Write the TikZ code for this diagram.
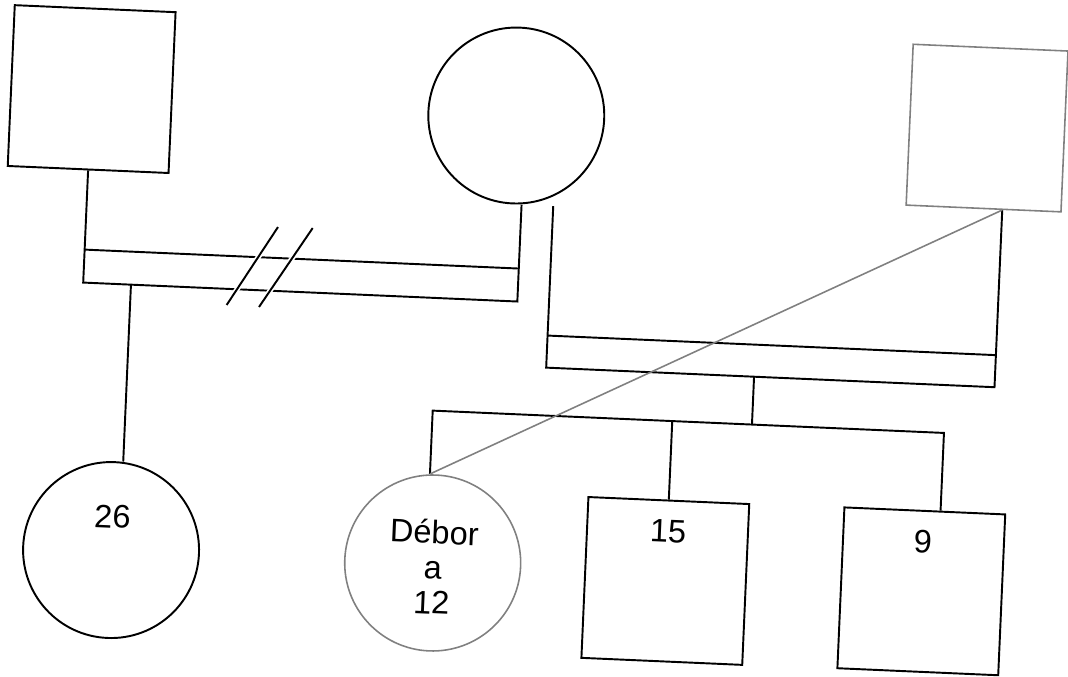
\documentclass[tikz,border=0pt]{standalone}
\usepackage{fontspec}
\setmainfont{Liberation Sans}
\usetikzlibrary{shapes}

\begin{document}
\begin{tikzpicture}[
    x=0.02cm, y=-0.02cm,
    male/.style={rectangle, draw=black, line width=1.1pt, minimum size=3.22cm, inner sep=0pt},
    female/.style={circle, draw=black, line width=1.1pt, minimum size=3.52cm, inner sep=0pt},
    faded/.style={draw=black!50, line width=0.9pt},
    age/.style={font=\fontsize{18.5}{20}\selectfont, inner sep=0pt, align=center},
    link/.style={draw=black, line width=1.1pt},
]
    \useasboundingbox (0,0) rectangle (1068,676);
    \begin{scope}[rotate around={-2.5:(534,338)}, transform shape]
    % parents
    \node[male] (dad1) at (81.2,108.6) {};
    \node[female] (mom) at (506.6,116.5) {};
    \node[male, faded, minimum width=3.1cm] (dad2) at (977.5,108.5) {};

    % children
    \node[female] (kid26) at (120.7,568.3) {};
    \node[female, faded] (debora) at (442.6,567.2) {};
    \node[male] (kid15) at (675.8,575) {};
    \node[male] (kid9) at (932,574.2) {};

    \node[age] (t26) at (120.7,535) {26};
    \node[age] (tdeb) at (443,571) {Débor\\a\\12};
    \node[age] (t15) at (676.5,525.6) {15};
    \node[age] (t9) at (931.5,524.5) {9};

    % first couple, separated
    \coordinate (b1ur) at (515.8,269.3);
    \coordinate (b1lr) at (515.8,302.3);
    \draw[link] (dad1.south) |- (b1lr) -- (mom.south -| b1lr);
    \draw[link] (dad1.south |- b1ur) -- (b1ur);
    \draw[link, preaction={draw=white, line width=3pt}] (273.4,238.3) -- (225.5,318.4);
    \draw[link, preaction={draw=white, line width=3pt}] (308.1,237.8) -- (257.9,319);
    \coordinate (k26) at (129,302.3);
    \draw[link] (k26) -- (kid26.north -| k26);

    % second couple
    \coordinate (b2ll) at (547.5,367.1);
    \coordinate (b2lr) at (996.3,367.1);
    \coordinate (b2ur) at (996.3,335);
    \draw[link] (mom.south -| b2ll) -- (b2ll) -- (b2lr) -- (dad2.south -| b2lr);
    \draw[link] (b2ur -| b2ll) -- (b2ur);

    % siblings
    \coordinate (drop) at (755.6,415);
    \coordinate (sibL) at (436,415);
    \coordinate (sibR) at (947.8,415);
    \draw[link] (b2ll -| drop) -- (drop);
    \draw[link] (debora.north -| sibL) -- (sibL) -- (sibR) -- (kid9.north -| sibR);
    \draw[link] (sibL -| kid15) -- (kid15.north);
    \draw[faded] (debora.north -| sibL) -- (dad2.south -| b2lr);
    \end{scope}
\end{tikzpicture}
\end{document}
